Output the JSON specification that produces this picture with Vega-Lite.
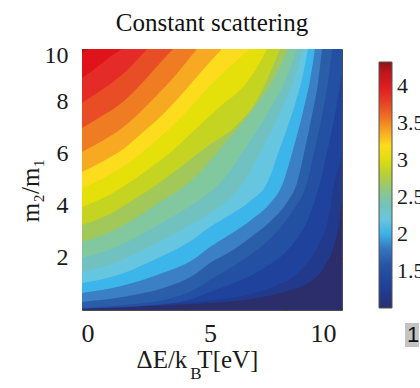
{
  "$schema": "https://vega.github.io/schema/vega-lite/v6.json",
  "autosize": "none",
  "padding": {"left": 82, "top": 49, "right": 78, "bottom": 78},
  "width": 260,
  "height": 261,
  "background": "white",
  "title": {"text": "Constant scattering", "font": "Liberation Serif", "fontSize": 25, "fontWeight": "normal", "color": "#111111", "anchor": "middle", "baseline": "alphabetic", "offset": 16, "dy": 29},
  "config": {
    "view": {"stroke": "#4d4d4d", "strokeWidth": 1, "fill": "#2b2e6b"},
    "axis": {"labelFont": "Liberation Serif", "titleFont": "Liberation Serif", "labelColor": "#1a1a1a", "titleColor": "#1a1a1a", "tickColor": "#333333", "domain": false, "grid": false, "titleFontWeight": "normal"}
  },
  "data": {"values": [
    {"v":1.17,"x":0,"y":0.03},{"v":1.17,"x":2.6,"y":0.15},{"v":1.17,"x":4.92,"y":0.27},{"v":1.17,"x":6.5,"y":0.42},{"v":1.17,"x":7.8,"y":0.7},{"v":1.17,"x":8.8,"y":1.1},{"v":1.17,"x":9.35,"y":1.7},{"v":1.17,"x":9.7,"y":2.5},{"v":1.17,"x":9.9,"y":3.4},{"v":1.17,"x":10,"y":4.3},
    {"v":1.34,"x":0,"y":0.04},{"v":1.34,"x":2.6,"y":0.2},{"v":1.34,"x":4.92,"y":0.36},{"v":1.34,"x":6.2,"y":0.55},{"v":1.34,"x":7.4,"y":0.9},{"v":1.34,"x":8.4,"y":1.5},{"v":1.34,"x":9.1,"y":2.5},{"v":1.34,"x":9.5,"y":3.6},{"v":1.34,"x":9.7,"y":4.87},{"v":1.34,"x":9.85,"y":5.4},{"v":1.34,"x":10,"y":5.9},
    {"v":1.51,"x":0,"y":0.06},{"v":1.51,"x":2.36,"y":0.15},{"v":1.51,"x":4.23,"y":0.42},{"v":1.51,"x":4.92,"y":0.69},{"v":1.51,"x":5.9,"y":1.05},{"v":1.51,"x":7.0,"y":1.6},{"v":1.51,"x":8.0,"y":2.4},{"v":1.51,"x":8.7,"y":3.5},{"v":1.51,"x":9.15,"y":4.87},{"v":1.51,"x":9.46,"y":6.2},{"v":1.51,"x":9.75,"y":7.6},{"v":1.51,"x":10,"y":9.09},
    {"v":1.68,"x":0,"y":0.08},{"v":1.68,"x":1.72,"y":0.2},{"v":1.68,"x":3.32,"y":0.42},{"v":1.68,"x":4.38,"y":0.8},{"v":1.68,"x":4.92,"y":1.15},{"v":1.68,"x":5.7,"y":1.6},{"v":1.68,"x":6.6,"y":2.2},{"v":1.68,"x":7.4,"y":2.9},{"v":1.68,"x":8.1,"y":3.8},{"v":1.68,"x":8.65,"y":4.87},{"v":1.68,"x":8.96,"y":6.2},{"v":1.68,"x":9.26,"y":7.6},{"v":1.68,"x":9.47,"y":8.8},{"v":1.68,"x":9.62,"y":10},
    {"v":1.85,"x":0,"y":0.31},{"v":1.85,"x":1.67,"y":0.52},{"v":1.85,"x":3.16,"y":0.85},{"v":1.85,"x":4.32,"y":1.35},{"v":1.85,"x":4.92,"y":1.8},{"v":1.85,"x":5.6,"y":2.17},{"v":1.85,"x":6.5,"y":2.8},{"v":1.85,"x":7.3,"y":3.45},{"v":1.85,"x":7.9,"y":4.15},{"v":1.85,"x":8.27,"y":4.87},{"v":1.85,"x":8.58,"y":6.2},{"v":1.85,"x":8.87,"y":7.6},{"v":1.85,"x":9.09,"y":8.8},{"v":1.85,"x":9.23,"y":10},
    {"v":2.02,"x":0,"y":0.65},{"v":2.02,"x":1.51,"y":0.92},{"v":2.02,"x":2.91,"y":1.35},{"v":2.02,"x":4.31,"y":1.95},{"v":2.02,"x":4.92,"y":2.41},{"v":2.02,"x":5.7,"y":2.9},{"v":2.02,"x":6.5,"y":3.45},{"v":2.02,"x":7.2,"y":4.05},{"v":2.02,"x":7.73,"y":4.87},{"v":2.02,"x":8.13,"y":6.2},{"v":2.02,"x":8.5,"y":7.6},{"v":2.02,"x":8.77,"y":8.8},{"v":2.02,"x":8.96,"y":10},
    {"v":2.19,"x":0,"y":1.03},{"v":2.19,"x":1.61,"y":1.42},{"v":2.19,"x":2.9,"y":1.98},{"v":2.19,"x":4.2,"y":2.65},{"v":2.19,"x":4.92,"y":3.18},{"v":2.19,"x":5.7,"y":3.65},{"v":2.19,"x":6.5,"y":4.2},{"v":2.19,"x":7.12,"y":4.87},{"v":2.19,"x":7.61,"y":6.2},{"v":2.19,"x":8.1,"y":7.6},{"v":2.19,"x":8.45,"y":8.8},{"v":2.19,"x":8.69,"y":10},
    {"v":2.36,"x":0,"y":1.46},{"v":2.36,"x":1.3,"y":1.82},{"v":2.36,"x":2.46,"y":2.35},{"v":2.36,"x":3.62,"y":2.95},{"v":2.36,"x":4.9,"y":3.7},{"v":2.36,"x":5.6,"y":4.2},{"v":2.36,"x":6.19,"y":4.87},{"v":2.36,"x":6.94,"y":6.2},{"v":2.36,"x":7.64,"y":7.6},{"v":2.36,"x":8.15,"y":8.8},{"v":2.36,"x":8.5,"y":10},
    {"v":2.53,"x":0,"y":1.99},{"v":2.53,"x":1.29,"y":2.4},{"v":2.53,"x":2.29,"y":2.9},{"v":2.53,"x":3.33,"y":3.5},{"v":2.53,"x":4.4,"y":4.15},{"v":2.53,"x":5.31,"y":4.87},{"v":2.53,"x":6.27,"y":6.2},{"v":2.53,"x":7.17,"y":7.6},{"v":2.53,"x":7.82,"y":8.8},{"v":2.53,"x":8.27,"y":10},
    {"v":2.7,"x":0,"y":2.61},{"v":2.7,"x":1.1,"y":3.0},{"v":2.7,"x":2.02,"y":3.5},{"v":2.7,"x":3.02,"y":4.15},{"v":2.7,"x":4.1,"y":4.87},{"v":2.7,"x":4.75,"y":5.5},{"v":2.7,"x":5.33,"y":6.2},{"v":2.7,"x":5.95,"y":6.9},{"v":2.7,"x":6.5,"y":7.6},{"v":2.7,"x":7.34,"y":8.8},{"v":2.7,"x":7.92,"y":10},
    {"v":2.87,"x":0,"y":3.26},{"v":2.87,"x":1.11,"y":3.7},{"v":2.87,"x":1.94,"y":4.2},{"v":2.87,"x":2.87,"y":4.8},{"v":2.87,"x":3.82,"y":5.5},{"v":2.87,"x":4.86,"y":6.3},{"v":2.87,"x":5.97,"y":7.1},{"v":2.87,"x":6.71,"y":8.0},{"v":2.87,"x":7.2,"y":9.0},{"v":2.87,"x":7.62,"y":10},
    {"v":3.04,"x":0,"y":3.95},{"v":3.04,"x":1.03,"y":4.4},{"v":3.04,"x":1.85,"y":4.9},{"v":3.04,"x":2.7,"y":5.5},{"v":3.04,"x":3.59,"y":6.2},{"v":3.04,"x":4.44,"y":7.0},{"v":3.04,"x":5.32,"y":7.8},{"v":3.04,"x":6.24,"y":8.6},{"v":3.04,"x":6.74,"y":9.3},{"v":3.04,"x":7.12,"y":10},
    {"v":3.21,"x":0,"y":4.67},{"v":3.21,"x":0.9,"y":5.1},{"v":3.21,"x":1.74,"y":5.6},{"v":3.21,"x":2.5,"y":6.2},{"v":3.21,"x":3.42,"y":7.0},{"v":3.21,"x":4.2,"y":7.8},{"v":3.21,"x":4.93,"y":8.6},{"v":3.21,"x":5.66,"y":9.3},{"v":3.21,"x":6.46,"y":10},
    {"v":3.38,"x":0,"y":5.29},{"v":3.38,"x":0.81,"y":5.7},{"v":3.38,"x":1.63,"y":6.2},{"v":3.38,"x":2.33,"y":6.8},{"v":3.38,"x":3.12,"y":7.5},{"v":3.38,"x":3.87,"y":8.3},{"v":3.38,"x":4.56,"y":9.1},{"v":3.38,"x":5.38,"y":10},
    {"v":3.55,"x":0,"y":6.05},{"v":3.55,"x":0.82,"y":6.5},{"v":3.55,"x":1.58,"y":7.0},{"v":3.55,"x":2.25,"y":7.6},{"v":3.55,"x":2.85,"y":8.2},{"v":3.55,"x":3.43,"y":8.8},{"v":3.55,"x":3.93,"y":9.4},{"v":3.55,"x":4.42,"y":10},
    {"v":3.72,"x":0,"y":6.97},{"v":3.72,"x":0.72,"y":7.4},{"v":3.72,"x":1.6,"y":8.0},{"v":3.72,"x":2.22,"y":8.6},{"v":3.72,"x":2.76,"y":9.2},{"v":3.72,"x":3.12,"y":9.6},{"v":3.72,"x":3.5,"y":10},
    {"v":3.89,"x":0,"y":7.93},{"v":3.89,"x":0.56,"y":8.3},{"v":3.89,"x":1.28,"y":8.8},{"v":3.89,"x":1.85,"y":9.3},{"v":3.89,"x":2.22,"y":9.7},{"v":3.89,"x":2.5,"y":10},
    {"v":4.06,"x":0,"y":8.89},{"v":4.06,"x":0.43,"y":9.2},{"v":4.06,"x":0.95,"y":9.6},{"v":4.06,"x":1.25,"y":9.82},{"v":4.06,"x":1.54,"y":10},
    {"v":4.23,"x":0,"y":9.85},{"v":4.23,"x":0.12,"y":9.93},{"v":4.23,"x":0.3,"y":10}
  ]},
  "layer": [
    {
      "mark": {"type": "area", "interpolate": "monotone", "clip": true},
      "encoding": {
        "x": {"field": "x", "type": "quantitative", "scale": {"domain": [0, 10], "nice": false, "zero": false},
              "axis": {"orient": "bottom", "values": [0.21, 4.92, 9.27], "labelExpr": "datum.value < 1 ? '0' : datum.value < 6 ? '5' : '10'", "ticks": false, "labelPadding": 10, "labelFontSize": 26, "labelFlush": false, "title": "ΔE/k\u2009\u2009T[eV]", "titleFontSize": 25, "titleX": 115, "titleY": 57, "titleBaseline": "alphabetic", "titleAlign": "center"}},
        "y": {"field": "y", "type": "quantitative", "scale": {"domain": [0, 10], "nice": false, "zero": false},
              "axis": {"orient": "left", "values": [2, 4, 6, 8, 10], "ticks": false, "labelPadding": 14, "labelFontSize": 24, "labelFlush": true, "labelFlushOffset": 6, "title": "m₂/m₁", "titleFontSize": 25, "titleAngle": -90, "titleX": -44, "titleY": 141, "titleBaseline": "alphabetic", "titleAlign": "center"}},
        "y2": {"datum": 10},
        "detail": {"field": "v"},
        "color": {"field": "v", "type": "quantitative",
          "scale": {"domain": [1.0, 1.17, 1.34, 1.51, 1.68, 1.85, 2.02, 2.19, 2.36, 2.53, 2.7, 2.87, 3.04, 3.21, 3.38, 3.55, 3.72, 3.89, 4.06, 4.23, 4.33],
                    "range": ["#2b2e6b", "#213a8c", "#1f429d", "#2450a3", "#2a5ea9", "#3b7fc5", "#3cb6ea", "#67c6df", "#71c1c1", "#82c89f", "#a2c85a", "#c5d321", "#e5df0a", "#fddc1d", "#f8a922", "#ef7b22", "#e84d26", "#e42b27", "#e0131a", "#b3161c", "#8a1515"],
                    "interpolate": "rgb"},
          "legend": {"orient": "none", "legendX": 297, "legendY": 13, "direction": "vertical", "gradientLength": 246, "gradientThickness": 13, "title": null,
                     "values": [1.5, 2, 2.5, 3, 3.5, 4], "labelExpr": "format(datum.value, '.2~g')", "labelFont": "Liberation Serif", "labelFontSize": 22, "labelColor": "#1a1a1a", "labelOffset": 5, "labelOverlap": false,
                     "gradientStrokeColor": "#555555", "gradientStrokeWidth": 1}}
      }
    },
    {
      "transform": [{"filter": "false"}],
      "mark": {"type": "point"},
      "encoding": {
        "x": {"field": "x", "type": "quantitative", "scale": {"domain": [0, 10], "nice": false, "zero": false},
              "axis": {"orient": "bottom", "values": [3.96, 7.85], "ticks": true, "tickSize": -4, "labels": false, "title": "B", "titleFontSize": 17, "titleX": 113.5, "titleY": 68, "titleBaseline": "alphabetic", "titleAlign": "center"}},
        "y": {"field": "y", "type": "quantitative", "scale": {"domain": [0, 10], "nice": false, "zero": false},
              "axis": {"orient": "right", "values": [2, 4, 6, 8], "ticks": true, "tickSize": -4, "labels": false, "title": null}}
      }
    },
    {
      "transform": [{"filter": "false"}],
      "mark": {"type": "point", "filled": true},
      "encoding": {
        "x": {"field": "x", "type": "quantitative", "scale": {"domain": [0, 10], "nice": false, "zero": false},
              "axis": {"orient": "top", "values": [3.96, 7.85], "ticks": true, "tickSize": -4, "labels": false, "title": null}},
        "y": {"field": "y", "type": "quantitative", "scale": {"domain": [0, 10], "nice": false, "zero": false},
              "axis": {"orient": "left", "values": [2, 4, 6, 8], "ticks": true, "tickSize": -4, "labels": false, "title": null}},
        "fill": {"datum": "1", "type": "nominal", "scale": {"domain": ["1"], "range": ["#c3c3c3"]},
                 "legend": {"orient": "none", "legendX": 318, "legendY": 274, "title": null, "padding": 0, "symbolType": "M-0.58,-1H0.58V1H-0.58Z", "symbolSize": 576, "symbolStrokeWidth": 0, "symbolOpacity": 1, "labelFont": "Liberation Sans", "labelFontSize": 22, "labelColor": "#111111", "labelOffset": -17, "labelBaseline": "middle"}}
      }
    }
  ],
  "resolve": {"axis": {"x": "independent", "y": "independent"}}
}
